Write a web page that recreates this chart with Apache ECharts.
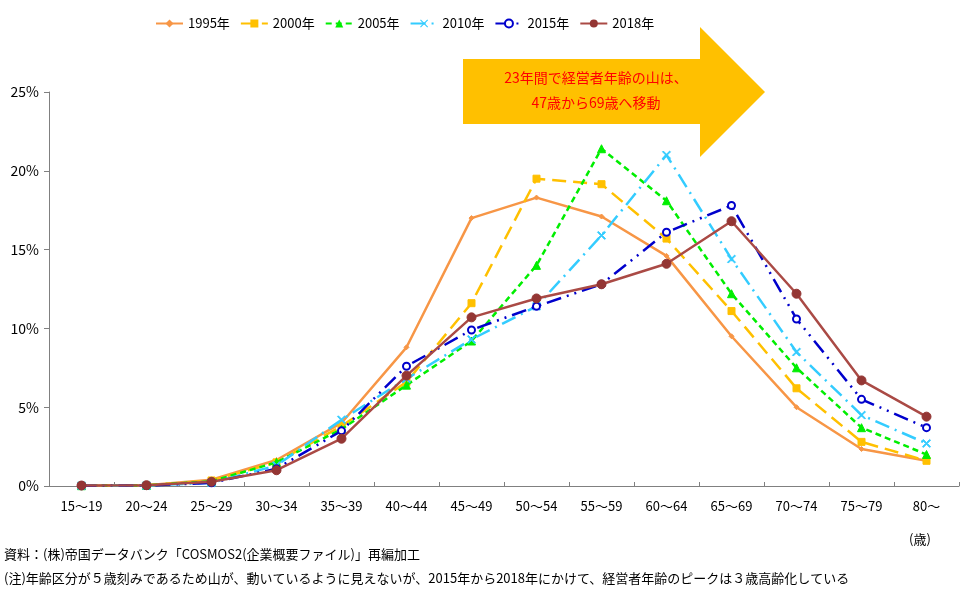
<!DOCTYPE html>
<html><head><meta charset="utf-8">
<script src="https://cdn.jsdelivr.net/npm/echarts@6/dist/echarts.min.js"></script>
<style>html,body{margin:0;padding:0;background:#fff}#c{width:974px;height:589px}</style>
</head><body><div id="c"></div>
<script>
const categories = ['15～19','20～24','25～29','30～34','35～39','40～44','45～49','50～54','55～59','60～64','65～69','70～74','75～79','80～'];
const yTicks = [0,5,10,15,20,25];
const s1995 = [0.02,0.05,0.4,1.65,4.0,8.8,17.0,18.3,17.1,14.6,9.5,5.0,2.35,1.6];
const s2000 = [0.02,0.04,0.35,1.5,3.8,6.6,11.6,19.5,19.15,15.7,11.1,6.2,2.8,1.6];
const s2005 = [0.02,0.04,0.3,1.5,3.6,6.4,9.2,14.0,21.4,18.1,12.2,7.5,3.7,2.0];
const s2010 = [0.02,0.03,0.2,1.3,4.2,6.8,9.3,11.4,15.9,21.0,14.4,8.5,4.5,2.7];
const s2015 = [0.02,0.03,0.2,1.1,3.5,7.6,9.9,11.4,12.8,16.1,17.8,10.6,5.5,3.7];
const s2018 = [0.03,0.05,0.27,1.0,3.0,7.0,10.7,11.9,12.8,14.1,16.8,12.2,6.7,4.4];
const seriesNames = ['1995年','2000年','2005年','2010年','2015年','2018年'];

const font = '"Noto Sans CJK JP", "Noto Sans", sans-serif';
const xPath = 'path://M0,1L1,0L5,4L9,0L10,1L6,5L10,9L9,10L5,6L1,10L0,9L4,5Z';

const styles = [
  {data:s1995, color:'#F79646', type:'solid', width:2.5, symbol:'diamond', size:5},
  {data:s2000, color:'#FFC000', type:[14,7], width:2.5, symbol:'rect', size:7},
  {data:s2005, color:'#00EE00', type:[6,4], width:2.5, symbol:'triangle', size:8},
  {data:s2010, color:'#33CCFF', type:[15,6,2,6], width:2.5, symbol:xPath, size:8},
  {data:s2015, color:'#0000CC', type:[15,6,2,6,2,6], width:2.5, symbol:'emptyCircle', size:7},
  {data:s2018, color:'#AA4A45', type:'solid', width:2.5, symbol:'circle', size:9}
];

const series = styles.map((s,i)=>({
  name: seriesNames[i],
  type:'line',
  data: s.data,
  symbol: s.symbol,
  symbolSize: s.size,
  showAllSymbol: true,
  lineStyle:{color:s.color, width:s.width, type:s.type},
  itemStyle: i===4 ? {color:s.color, borderWidth:1.1} : (i===5 ? {color:'#943634', borderColor:'#943634'} : {color:s.color, borderColor:s.color}),
  emphasis:{disabled:true},
  animation:false,
  z: 2+i
}));

const chart = echarts.init(document.getElementById('c'), null, {renderer:'canvas'});
chart.setOption({
  backgroundColor:'#fff',
  animation:false,
  textStyle:{fontFamily:font},
  legend:{
    top:12, left:150,
    itemWidth:27, itemHeight:10, itemGap:10,
    textStyle:{fontSize:13, color:'#000', fontFamily:font},
    data: seriesNames
  },
  grid:{left:49, right:15, top:92, bottom:103, containLabel:false},
  xAxis:{
    type:'category', data:categories, boundaryGap:true,
    axisLine:{lineStyle:{color:'#808080', width:1}},
    axisTick:{show:true, inside:true, length:4, lineStyle:{color:'#808080'}},
    axisLabel:{fontSize:13, color:'#000', margin:14, fontFamily:font, interval:0},
    splitLine:{show:false}
  },
  yAxis:{
    type:'value', min:yTicks[0], max:yTicks[yTicks.length-1], interval:5,
    axisLine:{show:true, lineStyle:{color:'#808080', width:1}},
    axisTick:{show:true, length:5, lineStyle:{color:'#808080'}},
    axisLabel:{fontSize:14, color:'#000', margin:10, formatter:'{value}%', fontFamily:font},
    splitLine:{show:false}
  },
  graphic:[
    {type:'polygon', z:100, shape:{points:[[463,59],[700,59],[700,27],[765,92],[700,157],[700,124],[463,124]]}, style:{fill:'#FFC000'}},
    {type:'text', z:101, style:{x:596, y:78, text:'23年間で経営者年齢の山は、', fill:'#FF0000', font:'14px '+font, textAlign:'center', textVerticalAlign:'middle'}},
    {type:'text', z:101, style:{x:596, y:103, text:'47歳から69歳へ移動', fill:'#FF0000', font:'14px '+font, textAlign:'center', textVerticalAlign:'middle'}},
    {type:'text', style:{x:920, y:539, text:'(歳)', fill:'#000', font:'13px '+font, textAlign:'center', textVerticalAlign:'middle'}},
    {type:'text', style:{x:4, y:554, text:'資料：(株)帝国データバンク「COSMOS2(企業概要ファイル)」再編加工', fill:'#000', font:'13px '+font, textVerticalAlign:'middle'}},
    {type:'text', style:{x:4, y:578, text:'(注)年齢区分が５歳刻みであるため山が、動いているように見えないが、2015年から2018年にかけて、経営者年齢のピークは３歳高齢化している', fill:'#000', font:'13px '+font, textVerticalAlign:'middle'}}
  ],
  series: series
});
</script>
</body></html>
